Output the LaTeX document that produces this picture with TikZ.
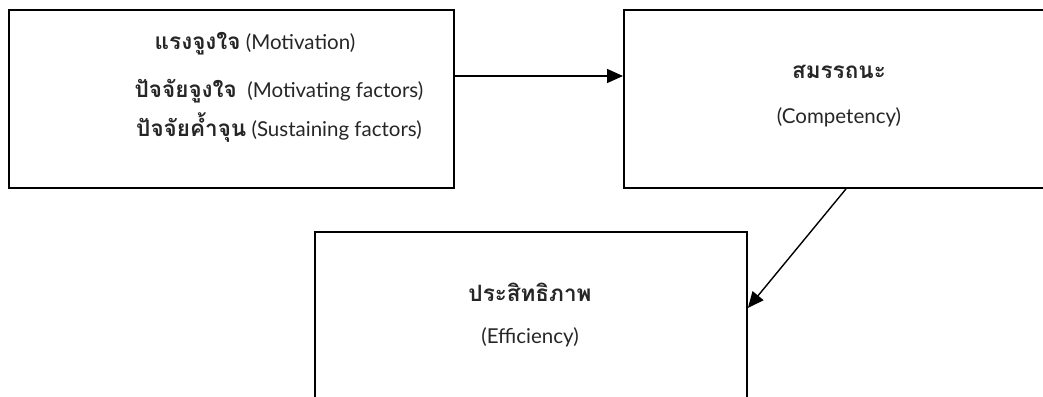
\documentclass[tikz,border=0pt]{standalone}
\usepackage{fontspec}
\newfontfamily\thai[Script=Thai]{Loma}
\newfontfamily\latin{Lato}
\usetikzlibrary{arrows.meta}
\newcommand{\thword}[1]{{\thai\bfseries\fontsize{22.5}{26}\selectfont #1}}
\tikzset{
  panel/.style={draw=black, line width=1.9pt, inner sep=0pt, anchor=north west},
  arr/.style={line width=1.4pt, -{Triangle[length=16pt,width=14pt]}},
  lbl/.style={anchor=base, inner sep=0pt, text=black!85, font=\latin\fontsize{20.5}{24}\selectfont},
}
\begin{document}
\begin{tikzpicture}[x=1pt,y=-1pt]
\useasboundingbox (0,0) rectangle (1043,396);
\clip (0,0) rectangle (1043,396);
% the three frames
\node[panel, minimum width=445pt, minimum height=178pt] (box1) at (8,9) {};
\node[panel, minimum width=432pt, minimum height=178pt] (box2) at (623,9) {};
\node[panel, minimum width=432pt, minimum height=178pt] (box3) at (314,231) {};
% labels
\node[lbl] (m1) at (255,49) {\thword{แรงจูงใจ} (Motivation)};
\node[lbl] (m2) at (279,97) {\thword{ปัจจัยจูงใจ}\ \ (Motivating factors)};
\node[lbl] (m3) at (279,136) {\thword{ปัจจัยค้ำจุน} (Sustaining factors)};
\node[lbl] (c1) at (839,78) {\thword{สมรรถนะ}};
\node[lbl] (c2) at (839,123) {(Competency)};
\node[lbl] (e1) at (530,301) {\thword{ประสิทธิภาพ}};
\node[lbl] (e2) at (530,343) {(Efficiency)};
% connectors
\draw[arr] (box1.east |- 0,76) -- (box2.west |- 0,76);
\draw[arr] (box2.south -| 846,0) -- (box3.east |- 0,308);
\end{tikzpicture}
\end{document}
